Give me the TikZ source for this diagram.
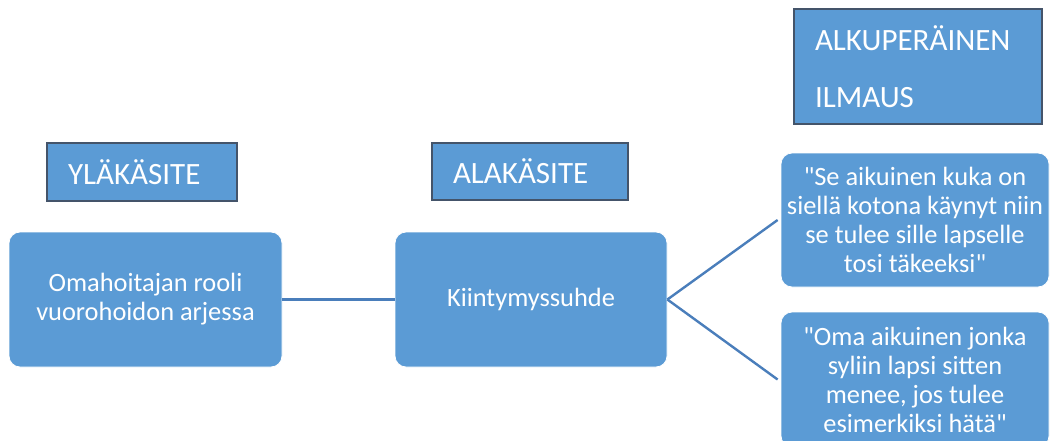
\documentclass[tikz,border=0pt]{standalone}
\usepackage{fontspec}
\setmainfont{Carlito}[Ligatures=TeXOff]
\definecolor{boxblue}{HTML}{5B9BD5}
\definecolor{hdrline}{HTML}{44546A}
\definecolor{conn}{HTML}{4A7EBB}
\tikzset{
  hdr/.style={draw=hdrline, line width=2.2pt, fill=boxblue, text=white, inner xsep=21pt, inner ysep=0pt, align=left, font=\fontsize{31}{37}\selectfont},
  rbox/.style={draw=white, line width=0.8pt, fill=boxblue, text=white, rounded corners=11pt, inner sep=2pt, align=center, font=\fontsize{26.4}{29}\selectfont},
  link/.style={draw=conn, line width=2.4pt}
}
\begin{document}
\begin{tikzpicture}[x=1pt,y=-1pt]
\useasboundingbox (0,0) rectangle (1051,441);
\node[hdr, minimum height=115pt, text width=206pt, inner xsep=21pt, font=\fontsize{31}{57}\selectfont] (orig) at (918,66.5) {ALKUPERÄINEN\\ILMAUS};
\node[hdr, minimum height=58pt, text width=148pt] (yla) at (142,172) {YLÄKÄSITE};
\node[hdr, minimum height=57pt, text width=154pt] (ala) at (530,171.5) {ALAKÄSITE};
\node[rbox, minimum width=273pt, minimum height=135pt] (oma) at (145.5,299.5) {Omahoitajan rooli\\vuorohoidon arjessa};
\node[rbox, minimum width=272pt, minimum height=135pt] (kiin) at (531,299.5) {Kiintymyssuhde};
\node[rbox, minimum width=268pt, minimum height=134pt] (q1) at (915,220) {"Se aikuinen kuka on\\siellä kotona käynyt niin\\se tulee sille lapselle\\tosi täkeeksi"};
\node[rbox, minimum width=268pt, minimum height=135pt] (q2) at (915,379.5) {"Oma aikuinen jonka\\syliin lapsi sitten\\menee, jos tulee\\esimerkiksi hätä"};
\draw[link] (oma.east) -- (kiin.west);
\draw[link] (kiin.east) -- ([xshift=-3pt]q1.west);
\draw[link] (kiin.east) -- ([xshift=-3pt]q2.west);
\end{tikzpicture}
\end{document}
